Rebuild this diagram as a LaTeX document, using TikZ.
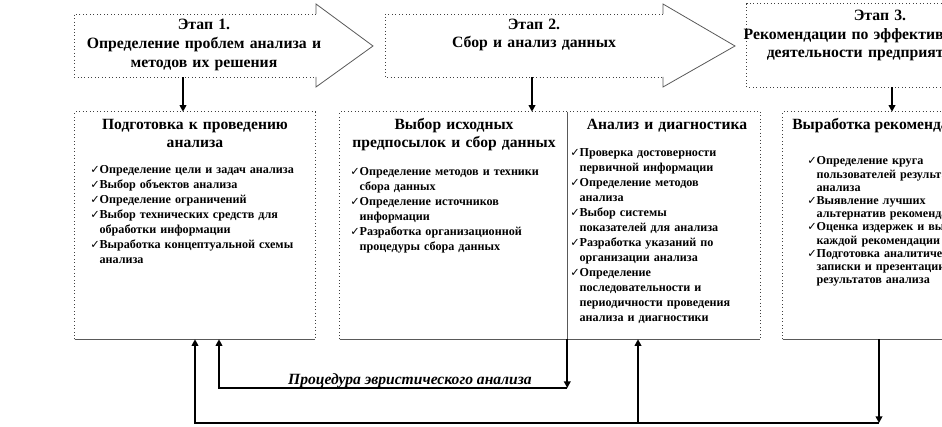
\documentclass[tikz,border=0pt]{standalone}
\usepackage{fontspec}
\setmainfont{Liberation Serif}
\newfontfamily\symfont{DejaVu Sans}
\usetikzlibrary{arrows.meta,fit}
\newcommand\bul{\bfseries\fontsize{9.1}{11.25}\selectfont}
\newcommand\bulD{\bfseries\fontsize{9.1}{9.9}\selectfont}
\newcommand\ttl{\bfseries\fontsize{11.7}{13.5}\selectfont}
\newcommand\hdr{\bfseries\fontsize{11.8}{14.25}\selectfont}
\newcommand\ckm{\makebox[7pt][l]{\symfont\bfseries\fontsize{8.5}{8.5}\selectfont ✓}}
\newcommand\itmF{\hangindent=7pt\hangafter=1\noindent\ckm}
\newcommand\itm{\par\itmF}
\begin{document}
\begin{tikzpicture}[
  x=0.75pt, y=-0.75pt,
  frame/.style={draw=black!75, dotted, line width=0.6pt},
  solidedge/.style={draw=black!65, line width=0.6pt},
  conn/.style={draw=black, line width=1.8pt},
  tipx/.style={-{Triangle[length=5pt,width=5pt]}},
  hdrn/.style={anchor=base, inner sep=0, text width=320*0.75pt, align=center, font=\hdr},
  ttln/.style={anchor=base, inner sep=0, text width=240*0.75pt, align=center, font=\ttl},
  listn/.style={anchor=base west, inner sep=0, text width=300*0.75pt, font=\bul},
  boxn/.style={inner sep=0, draw=none},
]
\useasboundingbox (0,0) rectangle (942,427);
\clip (0,0) rectangle (942,427);

% ---- stage arrows / box ----
\node[boxn, fit={(74,14)(316,77)}] (ar1) {};
\draw[frame] (316,14) -- (74,14) -- (74,77) -- (316,77);
\draw[solidedge] (316,14) -- (316,4) -- (373,46) -- (316,87) -- (316,77);
\node[hdrn] (t1) at (204,30) {Этап 1.\\Определение проблем анализа и\\методов их решения};

\node[boxn, fit={(385,14)(663,77)}] (ar2) {};
\draw[frame] (663,14) -- (385,14) -- (385,77) -- (663,77);
\draw[solidedge] (663,14) -- (663,4) -- (735,46) -- (663,87) -- (663,77);
\node[hdrn] (t2) at (534,30) {Этап 2.\\[-1pt]Сбор и анализ данных};

\node[boxn, fit={(747,4)(980,87)}] (ar3) {};
\draw[frame] (ar3.south west) rectangle (ar3.north east);
\node[hdrn] (t3) at (864,21) {\hspace*{24pt}Этап 3.\\[-0.5pt]Рекомендации по эффективности\\[-0.5pt]деятельности предприятия};

% ---- lower boxes ----
\node[boxn, fit={(75,112)(315,339)}] (bA) {};
\node[boxn, fit={(340,112)(567,339)}] (bB) {};
\node[boxn, fit={(567,112)(760,339)}] (bC) {};
\node[boxn, fit={(783,112)(990,339)}] (bD) {};
\draw[frame] (bA.south west) -- (bA.north west) -- (bA.north east) -- (bA.south east);
\draw[solidedge] (bA.south west) -- (bA.south east);
\draw[frame] (bB.south west) -- (bB.north west) -- (bC.north east) -- (bC.south east);
\draw[solidedge] (bB.south west) -- (bC.south east);
\draw[solidedge] (bB.north east) -- (bB.south east);
\draw[frame] (bD.south west) -- (bD.north west) -- (bD.north east);
\draw[solidedge] (bD.south west) -- (bD.south east);

% box A
\node[ttln] (tA) at (195,130) {Подготовка к проведению\\анализа};
\node[listn] (lA) at (90,174) {%
\itmF Определение цели и задач анализа
\itm Выбор объектов анализа
\itm Определение ограничений
\itm Выбор технических средств для\newline обработки информации
\itm Выработка концептуальной схемы\newline анализа\par};

% box B
\node[ttln] (tB) at (454,130) {Выбор исходных\\предпосылок и сбор данных};
\node[listn] (lB) at (350,176) {%
\itmF Определение методов и техники\newline сбора данных
\itm Определение источников\newline информации
\itm Разработка организационной\newline процедуры сбора данных\par};

% box C
\node[ttln] (tC) at (667,130) {Анализ и диагностика};
\node[listn] (lC) at (570,157) {%
\itmF Проверка достоверности\newline первичной информации
\itm Определение методов\newline анализа
\itm Выбор системы\newline показателей для анализа
\itm Разработка указаний по\newline организации анализа
\itm Определение\newline последовательности и\newline периодичности проведения\newline анализа и диагностики\par};

% box D
\node[anchor=base west, inner sep=0, font=\ttl] (tD) at (792,130) {Выработка рекомендаций};
\node[listn, font=\bulD] (lD) at (807,165) {%
\itmF Определение круга\newline пользователей результатов\newline анализа
\itm Выявление лучших\newline альтернатив рекомендаций
\itm Оценка издержек и выгод\newline каждой рекомендации
\itm Подготовка аналитической\newline записки и презентации\newline результатов анализа\par};

% ---- down connectors from stages ----
\coordinate (x1) at (183,0);
\coordinate (x2) at (532,0);
\coordinate (x3) at (892,0);
\draw[conn,tipx] (ar1.south -| x1) -- (bA.north -| x1);
\draw[conn,tipx] (ar2.south -| x2) -- (bB.north -| x2);
\draw[conn,tipx] (ar3.south -| x3) -- (bD.north -| x3);

% ---- heuristic loop ----
\coordinate (hy) at (0,388);
\coordinate (hx) at (219,0);
\draw[conn,tipx] (bB.south east) -- (bB.south east |- hy);
\draw[conn,tipx] (bB.south east |- hy) -- (hx |- hy) -- (bA.south -| hx);
\node[anchor=base, inner sep=0, font=\bfseries\itshape\fontsize{11.7}{13}\selectfont] (lab) at (410,385) {Процедура эвристического анализа};

% ---- outer loop ----
\coordinate (oy) at (0,423);
\coordinate (ox) at (195,0);
\coordinate (dx) at (879,0);
\coordinate (cx) at (638,0);
\draw[conn,tipx] (bD.south -| dx) -- (dx |- oy);
\draw[conn,tipx] (dx |- oy) -- (ox |- oy) -- (bA.south -| ox);
\draw[conn,tipx] (cx |- oy) -- (bC.south -| cx);
\end{tikzpicture}
\end{document}
